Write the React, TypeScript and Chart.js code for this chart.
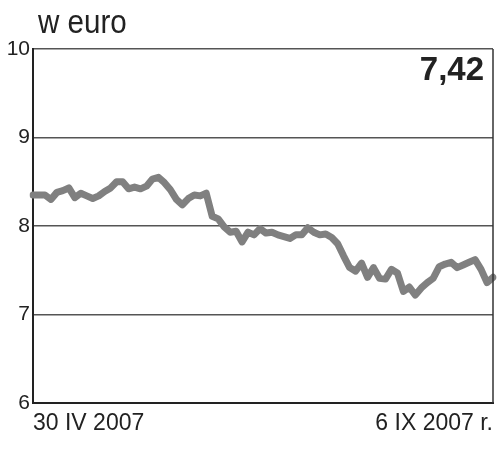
import React, { useEffect, useRef } from "react";
import { Chart, registerables } from "chart.js";

Chart.register(...registerables);

// Kurs (w euro), 30 IV 2007 – 6 IX 2007
const values: number[] = [
  8.35, 8.35, 8.35, 8.3, 8.38, 8.4, 8.43, 8.32, 8.37, 8.34,
  8.31, 8.34, 8.39, 8.43, 8.5, 8.5, 8.42, 8.44, 8.42, 8.45,
  8.53, 8.55, 8.49, 8.41, 8.3, 8.24, 8.31, 8.35, 8.34, 8.37,
  8.11, 8.08, 7.99, 7.93, 7.94, 7.82, 7.93, 7.9, 7.97, 7.92,
  7.93, 7.9, 7.88, 7.86, 7.9, 7.9, 7.98, 7.93, 7.9, 7.91,
  7.87, 7.8, 7.66, 7.53, 7.49, 7.58, 7.42, 7.53, 7.41, 7.4,
  7.51, 7.47, 7.26, 7.31, 7.22, 7.3, 7.36, 7.41, 7.54, 7.57,
  7.59, 7.53, 7.56, 7.59, 7.62, 7.51, 7.36, 7.42,
];
const categories: string[] = values.map((_, i) => String(i + 1));
const xTickLabels: string[] = ["30 IV 2007", "6 IX 2007 r."];
const yTicks: number[] = [6, 7, 8, 9, 10];
const unitLabel = "w euro";
const lastValueLabel = "7,42";

const FONT = "'Liberation Sans', Arial, sans-serif";

export default function App() {
  const ref = useRef<HTMLCanvasElement | null>(null);

  useEffect(() => {
    document.body.style.margin = "0";
    const canvas = ref.current;
    if (!canvas) return;

    const decor = {
      id: "decor",
      afterDraw(chart: any) {
        const { ctx, chartArea } = chart;
        ctx.save();
        // right border
        ctx.strokeStyle = "#333";
        ctx.lineWidth = 1.5;
        ctx.beginPath();
        ctx.moveTo(chartArea.right, chartArea.top);
        ctx.lineTo(chartArea.right, chartArea.bottom);
        ctx.stroke();
        // title
        ctx.fillStyle = "#222";
        ctx.textBaseline = "alphabetic";
        ctx.textAlign = "left";
        ctx.font = `34px ${FONT}`;
        ctx.translate(38, 33);
        ctx.scale(0.87, 1);
        ctx.fillText(unitLabel, 0, 0);
        ctx.restore();
        ctx.save();
        ctx.fillStyle = "#222";
        ctx.font = `bold 33px ${FONT}`;
        ctx.textAlign = "right";
        ctx.textBaseline = "alphabetic";
        ctx.fillText(lastValueLabel, 484, 80);
        ctx.restore();
      },
    };

    const chart = new Chart(canvas, {
      type: "line",
      data: {
        labels: categories,
        datasets: [
          {
            data: values,
            borderColor: "#808080",
            borderWidth: 7,
            borderJoinStyle: "round",
            borderCapStyle: "round",
            pointRadius: 0,
            tension: 0,
            fill: false,
          },
        ],
      },
      options: {
        animation: false,
        responsive: false,
        devicePixelRatio: 1,
        layout: { padding: { top: 49, right: 5, left: 0, bottom: 0 } },
        plugins: { legend: { display: false }, tooltip: { enabled: false }, title: { display: false } },
        scales: {
          x: {
            type: "category",
            offset: false,
            afterFit: (s: any) => {
              s.height = 50;
            },
            grid: { display: false, drawTicks: false },
            border: { display: true, color: "#222", width: 2 },
            ticks: {
              autoSkip: false,
              maxRotation: 0,
              minRotation: 0,
              align: "inner",
              padding: 7,
              color: "#222",
              font: { family: FONT, size: 23 },
              callback: (_v: any, i: number) =>
                i === 0 ? xTickLabels[0] : i === categories.length - 1 ? xTickLabels[1] : "",
            },
          },
          y: {
            min: yTicks[0],
            max: yTicks[yTicks.length - 1],
            afterFit: (s: any) => {
              s.width = 33;
            },
            afterBuildTicks: (s: any) => {
              s.ticks = yTicks.map((v) => ({ value: v }));
            },
            grid: {
              drawTicks: false,
              color: (c: any) => (c.tick && c.tick.value === yTicks[0] ? "rgba(0,0,0,0)" : "#555"),
              lineWidth: 1.5,
            },
            border: { display: true, color: "#222", width: 2 },
            ticks: {
              padding: 3,
              color: "#222",
              font: { family: FONT, size: 21 },
              callback: (v: any) => String(v),
            },
          },
        },
      },
      plugins: [decor],
    } as any);

    return () => chart.destroy();
  }, []);

  return <canvas ref={ref} width={500} height={453} style={{ display: "block" }} />;
}
